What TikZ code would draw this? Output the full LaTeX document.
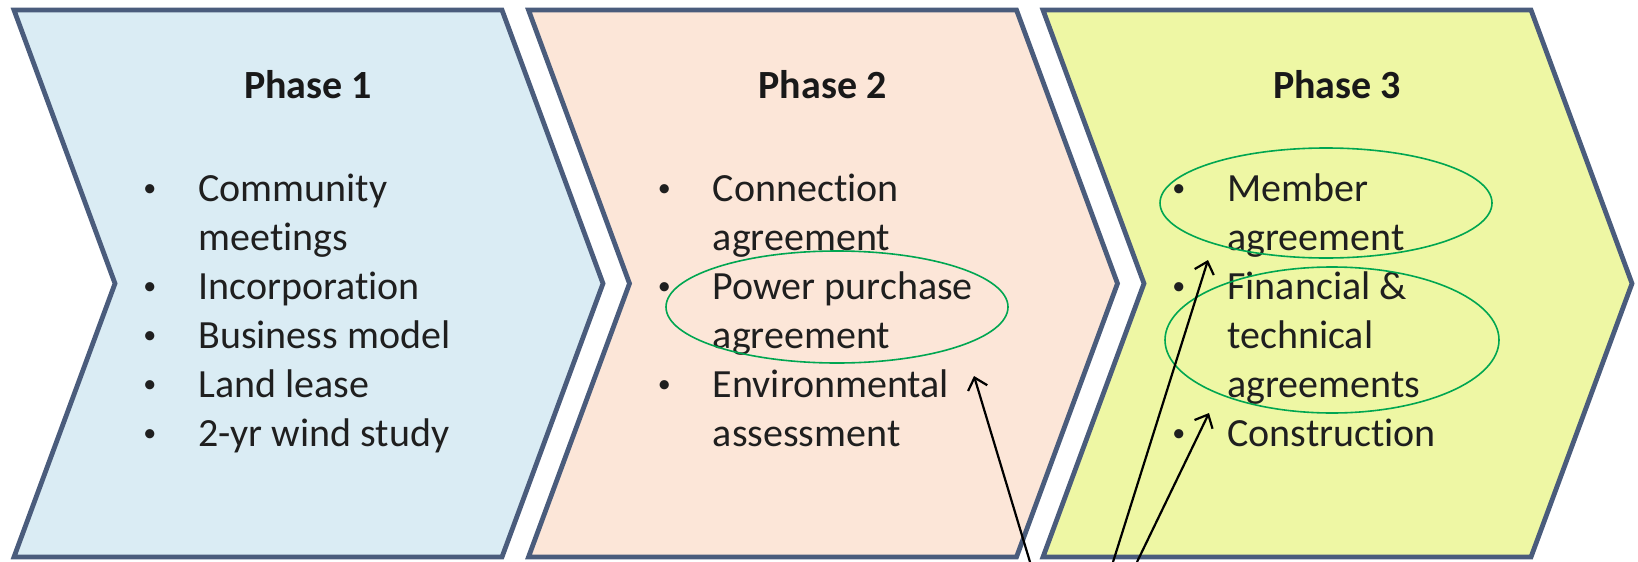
\documentclass[tikz,border=0pt]{standalone}
\usepackage{fontspec}
\setmainfont[Ligatures=NoCommon]{Carlito}
\usetikzlibrary{arrows.meta,shapes.geometric}

\definecolor{chevline}{HTML}{4A5C7C}
\definecolor{phaseone}{HTML}{DAECF4}
\definecolor{phasetwo}{HTML}{FCE6D8}
\definecolor{phasethree}{HTML}{EEF7A4}
\definecolor{markgreen}{HTML}{00A651}

\newcommand\dotmark{\hspace*{2pt}\raisebox{2.4pt}{\fontsize{13}{13}\selectfont\textbullet}}

\tikzset{
  chev/.style={line width=2.4pt, draw=chevline, line join=miter},
  phasetitle/.style={font=\fontsize{20}{24.5}\selectfont\bfseries, anchor=base, inner sep=0pt, text=black!90},
  itemlist/.style={font=\fontsize{20}{24.5}\selectfont, anchor=base west, inner sep=0pt, text=black!88},
  ring/.style={ellipse, draw=markgreen, line width=0.8pt, inner sep=0pt},
  pointer/.style={line width=1.1pt, -{Straight Barb[length=5.5pt,width=10pt]}}
}

\begin{document}
\begin{tikzpicture}[x=0.5pt, y=-0.5pt]
		%%%%% START %%%%%
		\useasboundingbox (0,0) rectangle (1638,562);
		
		% chevrons
		\draw[chev, fill=phaseone] (14,10) -- (502,10) -- (603,283.5) -- (502,557) -- (14,557) -- (115,283.5) -- cycle;
		\draw[chev, fill=phasetwo] (528.5,10) -- (1016.5,10) -- (1117.5,283.5) -- (1016.5,557) -- (528.5,557) -- (629.5,283.5) -- cycle;
		\draw[chev, fill=phasethree] (1043,10) -- (1531,10) -- (1632,283.5) -- (1531,557) -- (1043,557) -- (1144,283.5) -- cycle;
		
		% titles
		\node[phasetitle] (title1) at (308,98) {Phase 1};
		\node[phasetitle] (title2) at (822.5,98) {Phase 2};
		\node[phasetitle] (title3) at (1337,98) {Phase 3};
		
		% lists
		\node[itemlist] (list1) at (139,201) {\begin{tabular}[t]{@{}p{29.5pt}@{}l@{}}
			\dotmark & Community\\
			& meetings\\
			\dotmark & Incorporation\\
			\dotmark & Business model\\
			\dotmark & Land lease\\
			\dotmark & 2-yr wind study
		\end{tabular}};
		\node[itemlist] (list2) at (653.5,201) {\begin{tabular}[t]{@{}p{29.5pt}@{}l@{}}
			\dotmark & Connection\\
			& agreement\\
			\dotmark & Power purchase\\
			& agreement\\
			\dotmark & Environmental\\
			& assessment
		\end{tabular}};
		\node[itemlist] (list3) at (1168,201) {\begin{tabular}[t]{@{}p{29.5pt}@{}l@{}}
			\dotmark & Member\\
			& agreement\\
			\dotmark & Financial \&\\
			& technical\\
			& agreements\\
			\dotmark & Construction
		\end{tabular}};
		
		% green rings
		\node[ring, minimum width=171pt, minimum height=56pt] (ppa) at (837,307) {};
		\node[ring, minimum width=166pt, minimum height=55pt] (member) at (1326,203) {};
		\node[ring, minimum width=167pt, minimum height=73pt] (fintech) at (1332,340) {};
		
		% arrows
		\coordinate (ppafoot) at (1030,562);
		\coordinate (ppatip) at (974,376);
		\coordinate (memberfoot) at (1113,562);
		\coordinate (membertip) at (1208,260);
		\coordinate (buildfoot) at (1137,562);
		\coordinate (buildtip) at (1209,413);
		\draw[pointer] (ppafoot) -- (ppatip);
		\draw[pointer] (memberfoot) -- (membertip);
		\draw[pointer] (buildfoot) -- (buildtip);
		
		%%%%% END %%%%%
\end{tikzpicture}
\end{document}
